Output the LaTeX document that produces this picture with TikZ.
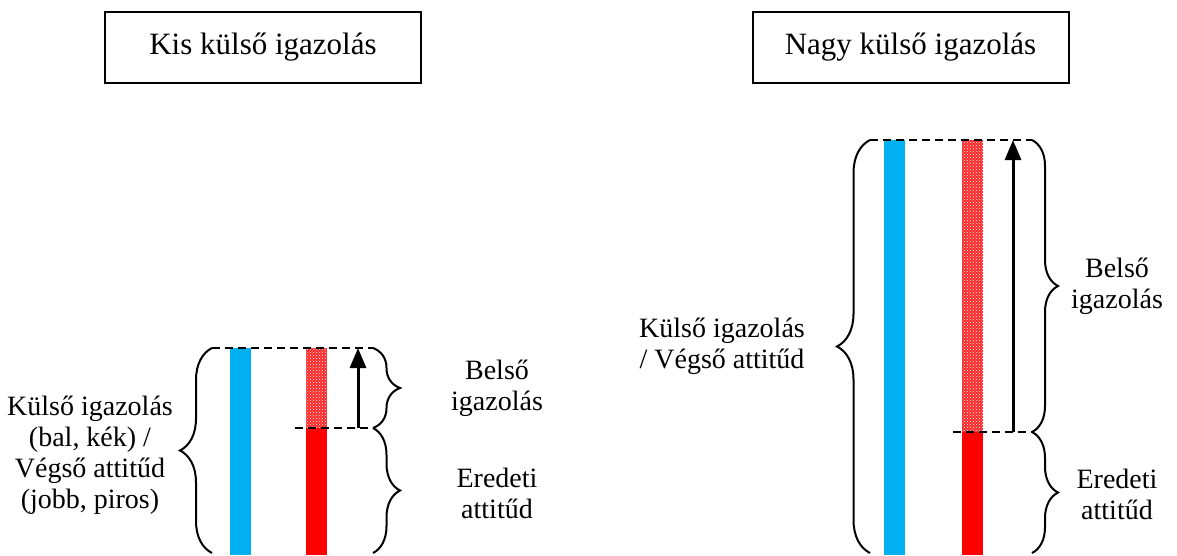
\documentclass[tikz,border=0pt]{standalone}
\usepackage{fontspec}
\setmainfont{Liberation Serif}
\usetikzlibrary{arrows.meta, decorations.pathreplacing, patterns, positioning}

\definecolor{barblue}{RGB}{0,176,240}
\definecolor{barred}{RGB}{255,0,0}

\begin{document}
\begin{tikzpicture}[x=1pt, y=-1pt,
    every node/.style={font=\fontsize{28}{31}\selectfont, align=center, inner sep=0pt},
    titlebox/.style={draw=black, line width=2pt, minimum width=316pt, minimum height=71pt, font=\fontsize{31}{34}\selectfont},
    guide/.style={dash pattern=on 8pt off 5pt, line width=2pt},
    curly/.style={decorate, decoration={brace, amplitude=#1}, line width=2pt},
    push/.style={line width=3pt, -{Triangle[length=20pt, width=16pt]}},
    bluebar/.style={fill=barblue},
    redbar/.style={fill=barred},
    inner/.style={fill=barred!85}]
\useasboundingbox (0,0) rectangle (1177,555);

% headings
\node[titlebox] (kis) at (263,47.5) {Kis külső igazolás};
\node[titlebox] (nagy) at (910.5,47.5) {Nagy külső igazolás};

% left: small external justification
\fill[bluebar] (230,348) rectangle (251,555);
\fill[inner] (306,348) rectangle (327,428);
\fill[pattern=crosshatch dots, pattern color=white] (306,348) rectangle (327,428);
\fill[redbar] (306,428) rectangle (327,555);
\coordinate (ltopL) at (212,348);
\coordinate (ltopR) at (373,348);
\coordinate (lmidL) at (295,428);
\coordinate (lmidR) at (373,428);
\coordinate (lbotL) at (212,553);
\coordinate (lbotR) at (373,553);
\coordinate (lfrom) at (358,428);
\coordinate (lto) at (358,348);
\draw[guide] (ltopL) -- (ltopR);
\draw[guide] (lmidL) -- (lmidR);
\draw[push] (lfrom) -- (lto);
\draw[curly=32] (lbotL) -- (ltopL);
\draw[curly=27] (ltopR) -- (lmidR);
\draw[curly=27] (lmidR) -- (lbotR);
\node (lkulso) at (90,455) {Külső igazolás\\(bal, kék) /\\Végső attitűd\\(jobb, piros)};
\node (lbelso) at (497,388) {Belső\\igazolás};
\node (leredeti) at (497,493) {Eredeti\\attitűd};

% right: large external justification
\fill[bluebar] (884,140) rectangle (905,555);
\fill[inner] (962,140) rectangle (983,432);
\fill[pattern=crosshatch dots, pattern color=white] (962,140) rectangle (983,432);
\fill[redbar] (962,432) rectangle (983,555);
\coordinate (rtopL) at (870,140);
\coordinate (rtopR) at (1032,140);
\coordinate (rmidL) at (953,432);
\coordinate (rmidR) at (1032,432);
\coordinate (rbotL) at (870,553);
\coordinate (rbotR) at (1032,553);
\coordinate (rfrom) at (1013,432);
\coordinate (rto) at (1013,140);
\draw[guide] (rtopL) -- (rtopR);
\draw[guide] (rmidL) -- (rmidR);
\draw[push] (rfrom) -- (rto);
\draw[curly=33] (rbotL) -- (rtopL);
\draw[curly=26] (rtopR) -- (rmidR);
\draw[curly=26] (rmidR) -- (rbotR);
\node (rkulso) at (722,346) {Külső igazolás\\/ Végső attitűd};
\node (rbelso) at (1117,286) {Belső\\igazolás};
\node (reredeti) at (1117,494) {Eredeti\\attitűd};
\end{tikzpicture}
\end{document}
